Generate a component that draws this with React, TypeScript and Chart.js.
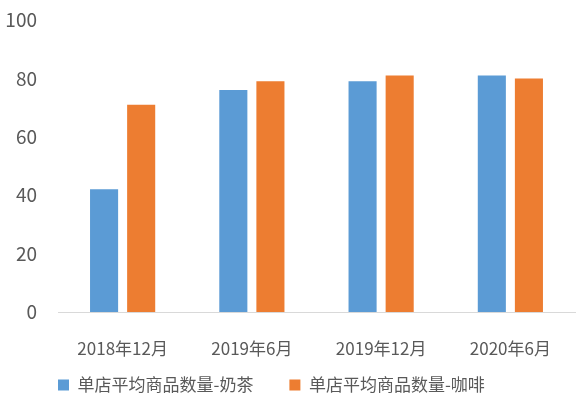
import { useEffect, useRef } from "react";
import Chart from "chart.js/auto";

const categories = ["2018年12月", "2019年6月", "2019年12月", "2020年6月"];
const milkTea = [42, 76, 79, 81];
const coffee = [71, 79, 81, 80];
const seriesNames = ["单店平均商品数量-奶茶", "单店平均商品数量-咖啡"];

const FONT = "'Noto Sans CJK SC', 'Noto Sans', sans-serif";

// scales are squeezed below to match the original layout, so let their labels spill over
const noLabelClip = (scale: any) => {
  scale._computeLabelArea = () => undefined;
};

export default function App() {
  const canvasRef = useRef<HTMLCanvasElement | null>(null);
  const chartRef = useRef<Chart | null>(null);

  useEffect(() => {
    document.body.style.margin = "0";
    if (!canvasRef.current) return;
    if (chartRef.current) chartRef.current.destroy();

    chartRef.current = new Chart(canvasRef.current, {
      type: "bar",
      data: {
        labels: categories,
        datasets: [
          {
            label: seriesNames[0],
            data: milkTea,
            backgroundColor: "#5B9BD5",
            categoryPercentage: 0.574,
            barPercentage: 0.757,
          },
          {
            label: seriesNames[1],
            data: coffee,
            backgroundColor: "#ED7D31",
            categoryPercentage: 0.574,
            barPercentage: 0.757,
          },
        ],
      },
      options: {
        animation: false,
        responsive: true,
        maintainAspectRatio: false,
        layout: { padding: { top: 0, left: 22, right: 8, bottom: 5.5 } },
        plugins: {
          tooltip: { enabled: false },
          legend: {
            position: "bottom",
            align: "start",
            labels: {
              boxWidth: 11,
              boxHeight: 11,
              padding: 36,
              color: "#595959",
              font: { family: FONT, size: 17 },
            },
          },
        },
        scales: {
          x: {
            grid: { display: false, drawTicks: false },
            border: { display: true, color: "#D9D9D9", width: 1 },
            ticks: {
              color: "#595959",
              padding: 26,
              font: { family: FONT, size: 17 },
            },
            afterFit: (scale: any) => {
              scale.height = 28.5;
              noLabelClip(scale);
            },
          },
          y: {
            min: 0,
            max: 100,
            grid: { display: false, drawTicks: false },
            border: { display: false },
            ticks: {
              stepSize: 20,
              color: "#595959",
              padding: 21,
              font: { family: FONT, size: 19 },
            },
            afterFit: (scale: any) => {
              scale.width = 36;
              scale.paddingTop = 20;
              scale.paddingBottom = 11;
              noLabelClip(scale);
            },
          },
        },
      },
    });

    return () => {
      if (chartRef.current) {
        chartRef.current.destroy();
        chartRef.current = null;
      }
    };
  }, []);

  return (
    <div style={{ position: "relative", width: 583, height: 409 }}>
      <canvas ref={canvasRef} />
    </div>
  );
}
